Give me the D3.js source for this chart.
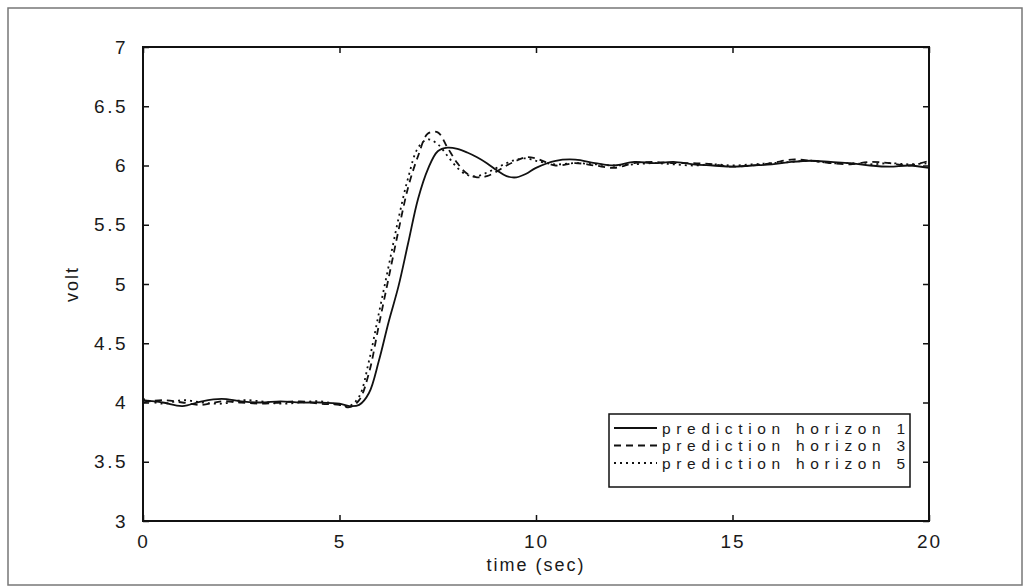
<!DOCTYPE html>
<html><head><meta charset="utf-8">
<script src="https://cdn.jsdelivr.net/npm/d3@7"></script>
<style>body{margin:0;background:#fff}svg{display:block}text{font-family:"Liberation Sans",Arial,sans-serif;fill:#1a1a1a}</style>
</head><body><svg id="c" width="1026" height="587"></svg>
<script>
const time = [0,0.5,1,1.5,2,2.5,3,3.5,4,4.5,5,5.25,5.5,5.75,6,6.25,6.5,6.75,7,7.25,7.5,7.75,8,8.25,8.5,8.75,9,9.25,9.5,9.75,10,10.5,11,11.5,12,12.5,13,13.5,14,14.5,15,15.5,16,16.5,17,17.5,18,18.5,19,19.5,20];
const horizon1 = [4.02,4.0,3.97,4.01,4.03,4.01,4.0,4.01,4.0,4.0,3.99,3.97,3.98,4.08,4.35,4.68,4.98,5.35,5.72,5.97,6.12,6.15,6.14,6.11,6.07,6.02,5.96,5.91,5.9,5.93,5.98,6.04,6.05,6.02,6.0,6.03,6.02,6.03,6.01,6.0,5.99,6.0,6.01,6.03,6.04,6.03,6.02,6.0,5.99,6.0,5.98];
const horizon3 = [4.0,4.02,4.0,3.98,4.01,4.0,3.99,4.0,4.01,3.99,3.98,3.96,4.02,4.25,4.65,5.05,5.45,5.82,6.08,6.27,6.28,6.15,6.02,5.93,5.9,5.91,5.95,6.0,6.04,6.07,6.06,6.0,6.02,6.0,5.98,6.02,6.03,6.02,6.02,6.01,5.99,6.0,6.02,6.05,6.04,6.02,6.01,6.03,6.02,6.0,6.04];
const horizon5 = [4.03,3.99,4.02,4.0,3.99,4.02,4.01,3.99,4.0,4.01,3.98,3.97,4.05,4.35,4.75,5.15,5.55,5.9,6.15,6.22,6.18,6.08,5.98,5.92,5.91,5.94,5.98,6.02,6.05,6.06,6.04,6.01,6.02,6.01,6.0,6.01,6.02,6.01,6.0,6.01,6.0,6.01,6.02,6.03,6.04,6.02,6.02,6.01,6.02,6.01,6.02];
const xTicks = [0,5,10,15,20];
const yTicks = [3,3.5,4,4.5,5,5.5,6,6.5,7];
const legendLabels = ["prediction horizon 1","prediction horizon 3","prediction horizon 5"];
const dashes = [null,"7,5","2,4"];

const svg = d3.select("#c");
const L=143,R=929,T=47,B=521;
const x = d3.scaleLinear().domain([0,20]).range([L,R]);
const y = d3.scaleLinear().domain([3,7]).range([B,T]);

// outer frame
svg.append("rect").attr("x",8).attr("y",8).attr("width",1014).attr("height",577)
  .attr("fill","none").attr("stroke","#777").attr("stroke-width",1.5);

// lines
const series=[horizon1,horizon3,horizon5];
const line = d3.line().x((d,i)=>x(time[i])).y(d=>y(d)).curve(d3.curveCatmullRom);
series.forEach((s,k)=>{
  svg.append("path").datum(s).attr("d",line).attr("fill","none").attr("stroke","#111")
    .attr("stroke-width",1.8).attr("stroke-dasharray",dashes[k]);
});

// axes (ticks inward)
const tk=6;
svg.append("g").attr("transform",`translate(0,${B})`).call(d3.axisBottom(x).tickValues(xTicks).tickSize(-tk).tickPadding(tk+8).tickFormat(d3.format("d")))
  .call(g=>{g.select(".domain").remove();g.selectAll("text").attr("font-size",19).attr("letter-spacing",2).attr("fill","#1a1a1a");});
svg.append("g").attr("transform",`translate(0,${T})`).call(d3.axisTop(x).tickValues(xTicks).tickSize(-tk).tickFormat(""))
  .call(g=>g.select(".domain").remove());
svg.append("g").attr("transform",`translate(${L},0)`).call(d3.axisLeft(y).tickValues(yTicks).tickSize(-tk).tickPadding(tk+9).tickFormat(d=>String(d)))
  .call(g=>{g.select(".domain").remove();g.selectAll("text").attr("font-size",19).attr("letter-spacing",2.5).attr("fill","#1a1a1a");});
svg.append("g").attr("transform",`translate(${R},0)`).call(d3.axisRight(y).tickValues(yTicks).tickSize(-tk).tickFormat(""))
  .call(g=>g.select(".domain").remove());
svg.selectAll(".tick line").attr("stroke","#111").attr("stroke-width",1.5);
svg.append("rect").attr("x",L).attr("y",T).attr("width",R-L).attr("height",B-T)
  .attr("fill","none").attr("stroke","#111").attr("stroke-width",2);

// axis labels
svg.append("text").attr("x",(L+R)/2).attr("y",571).attr("text-anchor","middle").attr("font-size",18).attr("letter-spacing",2).text("time (sec)");
svg.append("text").attr("transform",`translate(78,${(T+B)/2}) rotate(-90)`).attr("text-anchor","middle").attr("font-size",18).attr("letter-spacing",2).text("volt");

// legend
const lg = svg.append("g");
lg.append("rect").attr("x",609).attr("y",414).attr("width",301).attr("height",73).attr("fill","#fff").attr("stroke","#111").attr("stroke-width",1.5);
legendLabels.forEach((t,i)=>{
  const yy=428+i*17.5;
  lg.append("line").attr("x1",614).attr("x2",657).attr("y1",yy).attr("y2",yy).attr("stroke","#111").attr("stroke-width",1.8).attr("stroke-dasharray",dashes[i]);
  lg.append("text").attr("x",662).attr("y",yy+5.5).attr("font-size",15.5).attr("textLength",243).attr("lengthAdjust","spacing").text(t);
});
</script></body></html>
